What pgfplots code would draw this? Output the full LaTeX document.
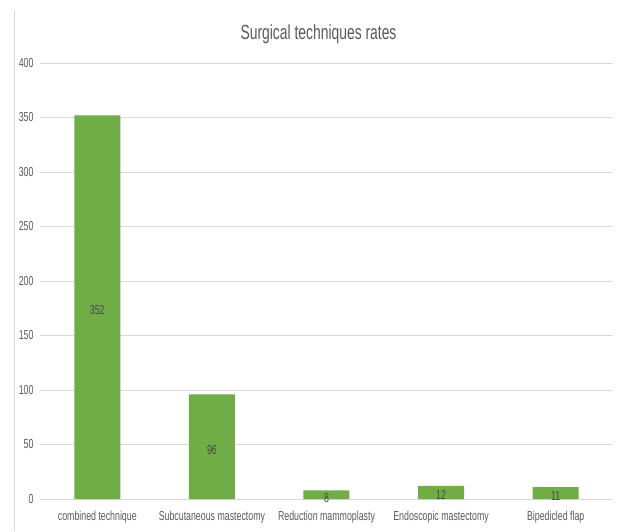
\documentclass[border=0pt]{standalone}
\usepackage{fontspec}
\setmainfont[FakeStretch=0.68]{Liberation Sans}
\usepackage{pgfplots}
\pgfplotsset{compat=1.18}
\definecolor{bargreen}{HTML}{70AD47}
\definecolor{gridgray}{HTML}{D9D9D9}
\definecolor{txtgray}{HTML}{595959}
\begin{document}
\begin{tikzpicture}
% page frame: 619 x 531
\path (-40bp,-32bp) rectangle (579bp,499bp);
% thin frame line on the left
\draw[gridgray, line width=0.8pt] (-26bp,-32bp) -- (-26bp,489bp);
\begin{axis}[
  scale only axis,
  width=573bp, height=436bp,
  ymin=0, ymax=400,
  xmin=-0.5, xmax=4.5,
  ytick={0,50,...,400},
  xtick=data,
  xticklabels={combined technique, Subcutaneous mastectomy, Reduction mammoplasty, Endoscopic mastectomy, Bipedicled flap},
  axis line style={draw=none},
  ymajorgrids,
  grid style={gridgray, line width=0.8pt},
  major tick length=0pt,
  tick label style={font=\fontsize{13}{15}\selectfont, text=txtgray},
  /pgf/number format/assume math mode=true,
  yticklabel style={xshift=-3bp},
  xticklabel style={yshift=-9bp},
  title={Surgical techniques rates},
  title style={font=\fontsize{20.5}{22}\selectfont, text=txtgray, yshift=10bp, xshift=-8bp},
  ybar, bar width=46bp,
  nodes near coords,
  visualization depends on=rawy \as \rawy,
  every node near coord/.append style={anchor=center, yshift=-0.545*\rawy bp-3bp, font=\fontsize{13}{15}\selectfont, text=txtgray!80!black},
]
\addplot[fill=bargreen, draw=none] coordinates {(0,352) (1,96) (2,8) (3,12) (4,11)};
\end{axis}
\end{tikzpicture}
\end{document}
